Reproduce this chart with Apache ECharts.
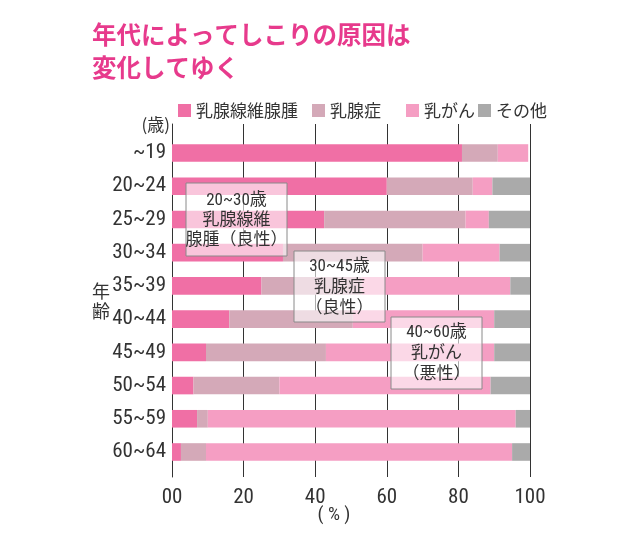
<!DOCTYPE html>
<html><head><meta charset="utf-8">
<script src="https://cdn.jsdelivr.net/npm/echarts@6/dist/echarts.min.js"></script>
<style>html,body{margin:0;padding:0;background:#fff}#c{width:630px;height:533px}</style>
</head><body><div id="c"></div>
<script>
const categories = ['~19','20~24','25~29','30~34','35~39','40~44','45~49','50~54','55~59','60~64'];
const seriesNames = ['乳腺線維腺腫','乳腺症','乳がん','その他'];
const fibroadenoma = [81, 60, 42.5, 31, 25, 16, 9.5, 6, 7, 2.5];
const mastopathy   = [10, 24, 39.5, 39, 28, 34.5, 33.5, 24, 3, 7];
const cancer       = [8.5, 5.5, 6.5, 21.5, 41.5, 39.5, 47, 59, 86, 85.5];
const other        = [0, 10.5, 11.5, 8.5, 5.5, 10, 10, 11, 4, 5];
const xTickLabels = ['00','20','40','60','80','100'];
const colors = ['#f06fa5','#d4a9b8','#f59ec3','#aaaaaa'];

const NUM = "'Liberation Sans Narrow','Roboto Condensed','Liberation Sans','Noto Sans CJK JP',sans-serif";
const JP = "'Noto Sans CJK JP',sans-serif";
const chart = echarts.init(document.getElementById('c'), null, {renderer:'canvas'});
const data = [fibroadenoma, mastopathy, cancer, other];
const legendLeft = [173, 307, 401, 473];

function box(x,y,w,h,lines,lh){
  return [
    {type:'rect', z:100, shape:{x:x,y:y,width:w,height:h}, style:{fill:'rgba(255,255,255,0.6)', stroke:'#8a8a8a', lineWidth:1}},
    {type:'text', z:101, x:x+w/2, y:y+h/2+1, style:{text:lines.join('\n'), fill:'#333', font:"17px "+NUM, align:'center', verticalAlign:'middle', lineHeight:lh}}
  ];
}

chart.setOption({
  animation:false,
  backgroundColor:'#fff',
  legend: seriesNames.map((n,i)=>({
    data:[n], left:legendLeft[i], top:97, itemWidth:13, itemHeight:13, itemGap:0,
    icon:'rect', textStyle:{fontSize:17, color:'#333', fontFamily:JP}, selectedMode:false
  })),
  grid:[
    {left:172, right:100, top:136.4, bottom:64.4},
    {left:172, right:100, top:124, bottom:56}
  ],
  xAxis:[
    {gridIndex:0, type:'value', min:0, max:100, show:false},
    {gridIndex:1, type:'value', min:0, max:100, interval:20,
     axisLine:{show:false}, axisTick:{show:false},
     splitLine:{show:true, lineStyle:{color:'#333', width:1}},
     axisLabel:{margin:10, fontSize:21, color:'#333', fontFamily:NUM,
       formatter:(v)=>xTickLabels[Math.round(v/20)]}}
  ],
  yAxis:[
    {gridIndex:0, type:'category', inverse:true, data:categories,
     axisLine:{show:false}, axisTick:{show:false},
     axisLabel:{margin:6, fontSize:21, color:'#333', fontFamily:NUM}},
    {gridIndex:1, type:'value', min:0, max:1,
     axisLine:{show:true, lineStyle:{color:'#333', width:1}},
     axisTick:{show:false}, axisLabel:{show:false}, splitLine:{show:false}}
  ],
  series: seriesNames.map((n,i)=>({
    name:n, type:'bar', stack:'a', xAxisIndex:0, yAxisIndex:0,
    barWidth:'53%', data:data[i], itemStyle:{color:colors[i]}, z:2
  })),
  graphic:{
    zlevel:1,
    elements:[
      {type:'text', left:92, top:18, style:{text:'年代によってしこりの原因は\n変化してゆく', fill:'#e73a8c', font:"bold 24.5px "+JP, lineHeight:33}},
      {type:'text', x:170, y:125, style:{text:'(歳)', fill:'#333', font:"17px "+JP, align:'right', verticalAlign:'middle'}},
      {type:'text', x:101, y:301, style:{text:'年\n齢', fill:'#333', font:"18px "+JP, align:'center', verticalAlign:'middle', lineHeight:20}},
      {type:'text', x:334, y:515, style:{text:'( % )', fill:'#333', font:"19px "+NUM, align:'center', verticalAlign:'middle'}}
    ].concat(
      box(186,183,101,73,['20~30歳','乳腺線維','腺腫（良性）'],20),
      box(294,251,91,71,['30~45歳','乳腺症','（良性）'],21),
      box(391,317,91,72,['40~60歳','乳がん','（悪性）'],21)
    )
  }
});
</script></body></html>
